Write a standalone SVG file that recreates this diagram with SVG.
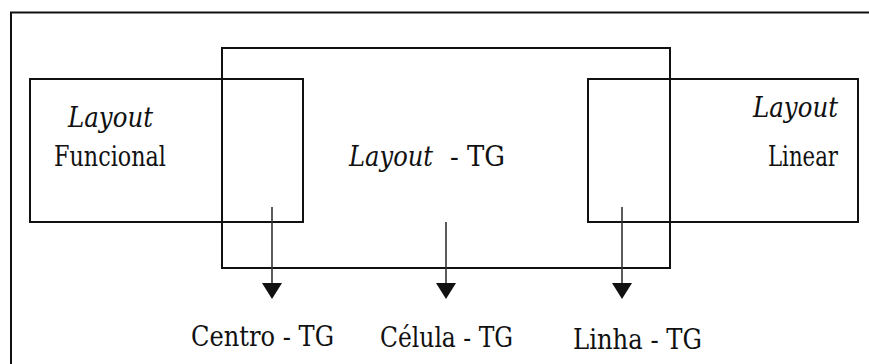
<svg xmlns="http://www.w3.org/2000/svg" width="869" height="364" viewBox="0 0 869 364">
<style>
.box{fill:none;stroke:#111;stroke-width:2}
.t{font-family:"DejaVu Serif","Liberation Serif",serif;font-size:27px;fill:#111}
.i{font-style:italic}
.c{stroke:#333;stroke-width:1.6;fill:none}
.ah{fill:#111}
</style>
<rect width="869" height="364" fill="#fff"/>
<g id="frame"><path class="box" d="M11,364 V12.5 H869" stroke="#222"/></g>
<g id="tg">
<rect class="box" x="222" y="48" width="448" height="220" stroke="#333"/>
<text class="t i" x="349" y="166" textLength="84" lengthAdjust="spacingAndGlyphs">Layout</text>
<text class="t" x="450" y="166" textLength="55" lengthAdjust="spacingAndGlyphs">- TG</text>
</g>
<g id="funcional">
<rect class="box" x="30" y="79" width="273" height="143"/>
<text class="t i" x="68" y="127" textLength="85" lengthAdjust="spacingAndGlyphs">Layout</text>
<text class="t" x="54" y="166" textLength="112" lengthAdjust="spacingAndGlyphs">Funcional</text>
</g>
<g id="linear">
<rect class="box" x="588" y="79" width="270" height="143"/>
<text class="t i" x="753" y="117" textLength="85" lengthAdjust="spacingAndGlyphs">Layout</text>
<text class="t" x="768" y="166" textLength="70" lengthAdjust="spacingAndGlyphs">Linear</text>
</g>
<g id="connectors">
<path class="c" d="M272,207 V284"/>
<path class="ah" d="M262,283 H282 L272,299 Z"/>
<path class="c" d="M446,222 V284"/>
<path class="ah" d="M436,283 H456 L446,299 Z"/>
<path class="c" d="M622,207 V284"/>
<path class="ah" d="M612,283 H632 L622,299 Z"/>
</g>
<g id="centro"><text class="t" x="191" y="346" textLength="143" lengthAdjust="spacingAndGlyphs">Centro - TG</text></g>
<g id="celula"><text class="t" x="380" y="347" textLength="133" lengthAdjust="spacingAndGlyphs">Célula - TG</text></g>
<g id="linha"><text class="t" x="573" y="349" textLength="129" lengthAdjust="spacingAndGlyphs">Linha - TG</text></g>
</svg>
